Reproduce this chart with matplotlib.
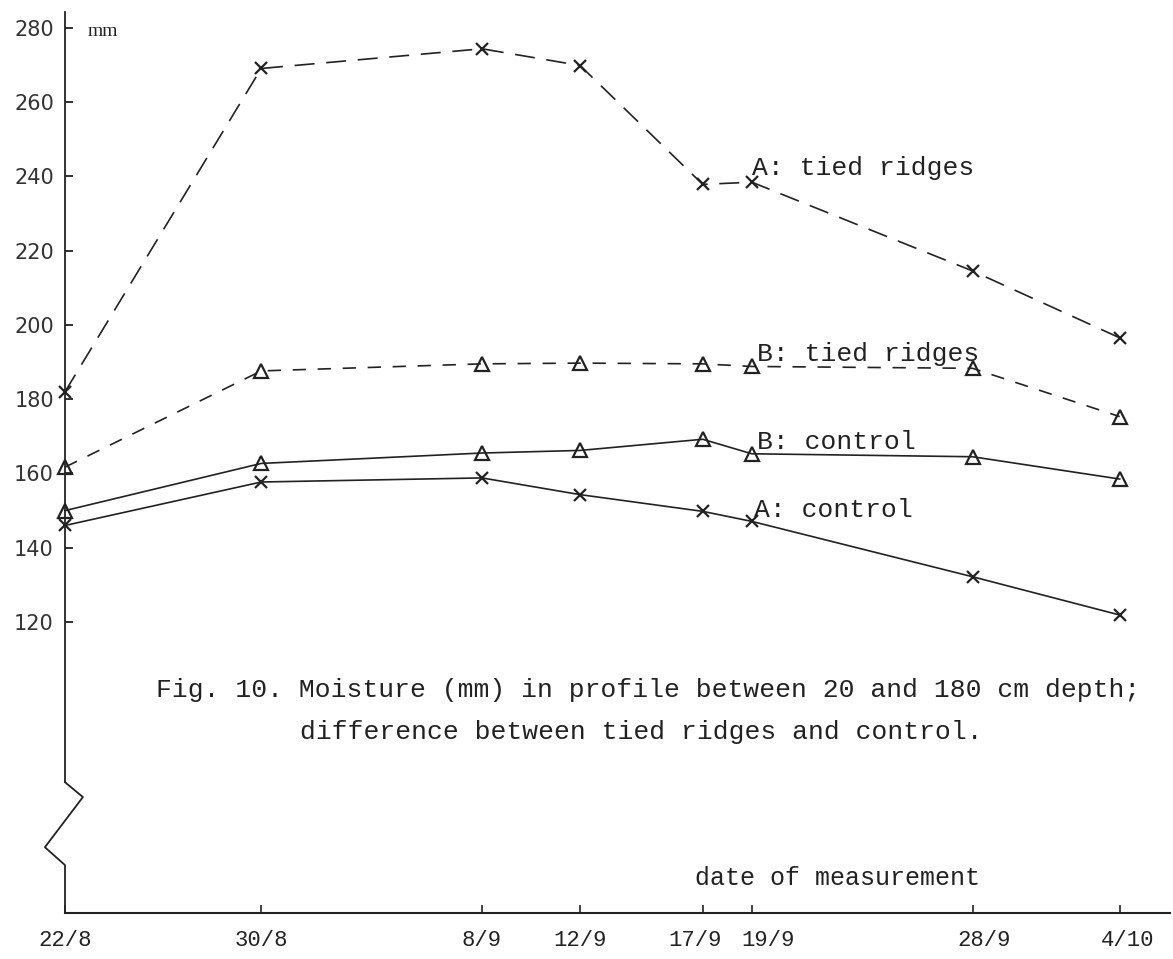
import numpy as np
from matplotlib import pyplot as plt
from matplotlib.transforms import ScaledTranslation

# days after 22/8 and the dates printed on the axis
days = [0, 8, 17, 21, 26, 28, 37, 43]
date_labels = ['22/8', '30/8', '8/9', '12/9', '17/9', '19/9', '28/9', '4/10']

# moisture (mm), 20-180 cm
a_tied = [182, 269, 274.3, 269.8, 237.8, 238.4, 214.5, 196.5]
b_tied = [161.7, 187.6, 189.5, 189.7, 189.5, 188.8, 188.3, 175.3]
b_control = [150, 162.7, 165.5, 166.2, 169.2, 165.3, 164.5, 158.5]
a_control = [146, 157.7, 158.8, 154.3, 149.8, 147.1, 132.2, 121.9]

yticks = [120, 140, 160, 180, 200, 220, 240, 260, 280]

ink = '#222222'
mono = 'Liberation Mono'

#%% figure
W, H = 1173, 959
fig = plt.figure(figsize=(W/100, H/100), dpi=100)
ax = fig.add_axes([65/W, 46/H, 1105/W, 901/H])
ax.set_xlim(0, 45.05)
ax.set_ylim(41.7, 284.2)

for s in ['top', 'right', 'left']:
    ax.spines[s].set_visible(False)
ax.spines['bottom'].set_linewidth(1.5)
ax.spines['bottom'].set_color(ink)

# y axis drawn by hand, with the break
ax.plot([0, 0], [284.2, 76.9], color=ink, lw=1.3, clip_on=False)
ax.plot([0, 0.73, -0.82, 0, 0], [76.9, 72.9, 59.4, 54.6, 41.7],
        color=ink, lw=1.3, clip_on=False)

ax.set_yticks(yticks)
ax.set_yticklabels([str(v) for v in yticks], fontsize=15, family='DejaVu Sans', color='#333333')
ax.tick_params(axis='y', direction='in', length=6, width=1.3, pad=8, color=ink)

ax.set_xticks(days)
ax.set_xticklabels(date_labels, fontsize=16, family=mono, color=ink)
ax.tick_params(axis='x', direction='in', length=6, width=1.2, pad=12, color=ink)

# typed labels sit a little off their ticks (17/9 and 19/9 pushed apart)
nudge = {'17/9': -8, '19/9': 16, '28/9': 12, '4/10': 8}
for lab in ax.get_xticklabels():
    dx = nudge.get(lab.get_text(), 0)
    if dx:
        lab.set_transform(lab.get_transform() + ScaledTranslation(dx/100, 0, fig.dpi_scale_trans))

#%% series
lw = 1.2
ax.plot(days, a_tied, color=ink, lw=lw, linestyle=(0, (12, 7)),
        marker='x', ms=9, mew=1.6, clip_on=False)
ax.plot(days, b_tied, color=ink, lw=lw, linestyle=(0, (8, 7)),
        marker='^', ms=10, mew=1.6, mfc='none', mec=ink, clip_on=False)
ax.plot(days, b_control, color=ink, lw=lw,
        marker='^', ms=10, mew=1.6, mfc='none', mec=ink, clip_on=False)
ax.plot(days, a_control, color=ink, lw=lw,
        marker='x', ms=9, mew=1.6, clip_on=False)

lab_kw = dict(fontsize=19, family=mono, color=ink, va='baseline', ha='left')
ax.text(28.0, 240.3, 'A: tied ridges', **lab_kw)
ax.text(28.2, 190.2, 'B: tied ridges', **lab_kw)
ax.text(28.2, 166.7, 'B: control', **lab_kw)
ax.text(28.1, 148.4, 'A: control', **lab_kw)

ax.text(0.94, 279, 'mm', fontsize=14, family='Liberation Serif', color=ink, va='center', ha='left')

ax.text(31.5, 51.0, 'date of measurement', fontsize=18, family=mono, color=ink,
        ha='center', va='center')

# caption
fig.text(156/W, 1 - 690/H, 'Fig. 10. Moisture (mm) in profile between 20 and 180 cm depth;',
         fontsize=19, family=mono, color=ink, va='center', ha='left')
fig.text(300/W, 1 - 732/H, 'difference between tied ridges and control.',
         fontsize=19, family=mono, color=ink, va='center', ha='left')

fig.savefig('out.png', dpi=100)
